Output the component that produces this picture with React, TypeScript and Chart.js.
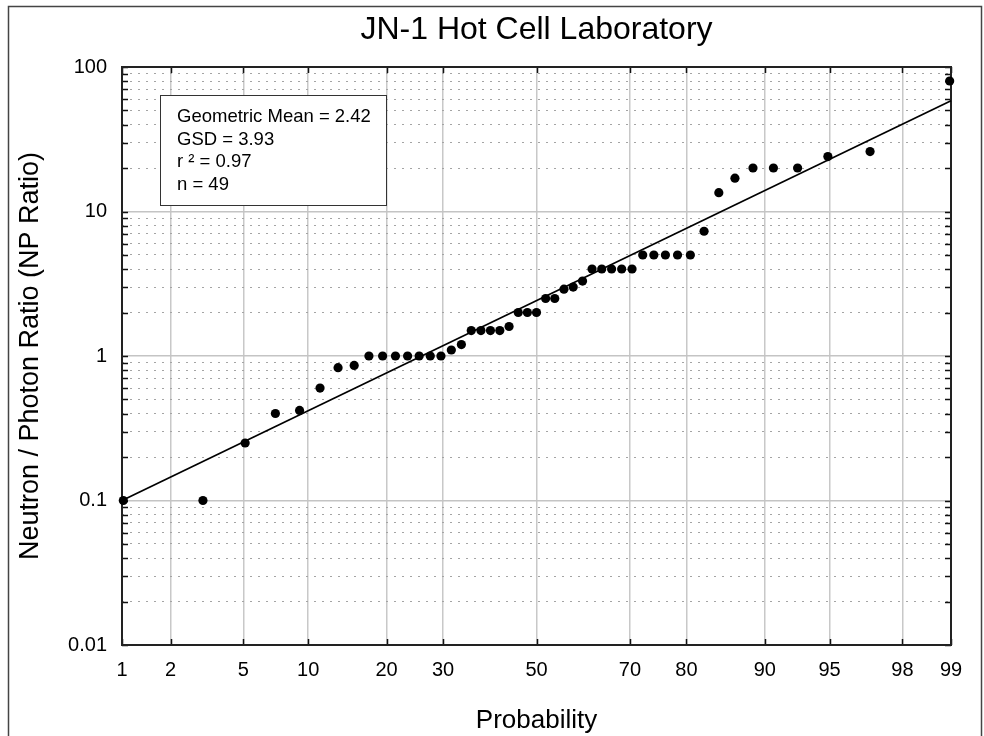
import React, { useEffect, useRef } from 'react';
import { Chart, registerables, LinearScale } from 'chart.js';

// ---------- data ----------
const chartTitle = 'JN-1 Hot Cell Laboratory';
const xAxisTitle = 'Probability';
const yAxisTitle = 'Neutron / Photon Ratio (NP Ratio)';

const probTicks = [1, 2, 5, 10, 20, 30, 50, 70, 80, 90, 95, 98, 99];
const yDecades = [0.01, 0.1, 1, 10, 100];
const yMinorSteps = [2, 3, 4, 5, 6, 7, 8, 9];

// cumulative probability (%) of each sample
const probabilities = [
  1.02, 3.06, 5.10, 7.14, 9.18, 11.22, 13.27, 15.31, 17.35, 19.39,
  21.43, 23.47, 25.51, 27.55, 29.59, 31.63, 33.67, 35.71, 37.76, 39.80,
  41.84, 43.88, 45.92, 47.96, 50.00, 52.04, 54.08, 56.12, 58.16, 60.20,
  62.24, 64.29, 66.33, 68.37, 70.41, 72.45, 74.49, 76.53, 78.57, 80.61,
  82.65, 84.69, 86.73, 88.78, 90.82, 92.86, 94.90, 96.94, 98.98,
];
// neutron / photon ratio of each sample
const npRatios = [
  0.1, 0.1, 0.25, 0.4, 0.42, 0.6, 0.83, 0.86, 1, 1,
  1, 1, 1, 1, 1, 1.1, 1.2, 1.5, 1.5, 1.5,
  1.5, 1.6, 2, 2, 2, 2.5, 2.5, 2.9, 3, 3.3,
  4, 4, 4, 4, 4, 5, 5, 5, 5, 5,
  7.3, 13.5, 17, 20, 20, 20, 24, 26, 80,
];
// fitted lognormal line end points
const fitProbabilities = [1, 99];
const fitRatios = [0.1, 58.4];

const statsLines = ['Geometric Mean = 2.42', 'GSD = 3.93', 'r \u00b2 = 0.97', 'n = 49'];

// ---------- probability (probit) scale ----------
function probit(p: number): number {
  const a = [-3.969683028665376e1, 2.209460984245205e2, -2.759285104469687e2, 1.38357751867269e2, -3.066479806614716e1, 2.506628277459239];
  const b = [-5.447609879822406e1, 1.615858368580409e2, -1.556989798598866e2, 6.680131188771972e1, -1.328068155288572e1];
  const c = [-7.784894002430293e-3, -3.223964580411365e-1, -2.400758277161838, -2.549732539343734, 4.374664141464968, 2.938163982698783];
  const d = [7.784695709041462e-3, 3.224671290700398e-1, 2.445134137142996, 3.754408661907416];
  const pl = 0.02425;
  if (p < pl) {
    const q = Math.sqrt(-2 * Math.log(p));
    return (((((c[0] * q + c[1]) * q + c[2]) * q + c[3]) * q + c[4]) * q + c[5]) / ((((d[0] * q + d[1]) * q + d[2]) * q + d[3]) * q + 1);
  }
  if (p <= 1 - pl) {
    const q = p - 0.5;
    const r = q * q;
    return ((((((a[0] * r + a[1]) * r + a[2]) * r + a[3]) * r + a[4]) * r + a[5]) * q) / (((((b[0] * r + b[1]) * r + b[2]) * r + b[3]) * r + b[4]) * r + 1);
  }
  const q = Math.sqrt(-2 * Math.log(1 - p));
  return -(((((c[0] * q + c[1]) * q + c[2]) * q + c[3]) * q + c[4]) * q + c[5]) / ((((d[0] * q + d[1]) * q + d[2]) * q + d[3]) * q + 1);
}
function normCdf(z: number): number {
  const t = 1 / (1 + 0.3275911 * Math.abs(z) / Math.SQRT2);
  const y = 1 - (((((1.061405429 * t - 1.453152027) * t + 1.421413741) * t - 0.284496736) * t + 0.254829592) * t) * Math.exp(-z * z / 2);
  return z >= 0 ? (1 + y) / 2 : (1 - y) / 2;
}

class ProbitScale extends (LinearScale as any) {
  static id = 'probit';
  determineDataLimits() {
    const o: any = (this as any).options;
    (this as any).min = o.min;
    (this as any).max = o.max;
  }
  buildTicks() {
    return probTicks.map((v) => ({ value: v }));
  }
  getPixelForValue(value: number) {
    const self: any = this;
    const z0 = probit(self.min / 100);
    const z1 = probit(self.max / 100);
    const z = probit(value / 100);
    return self.getPixelForDecimal((z - z0) / (z1 - z0));
  }
  getValueForPixel(pixel: number) {
    const self: any = this;
    const z0 = probit(self.min / 100);
    const z1 = probit(self.max / 100);
    const dec = self.getDecimalForPixel(pixel);
    return normCdf(z0 + dec * (z1 - z0)) * 100;
  }
}

Chart.register(...registerables, ProbitScale as any);

const FONT = "'Liberation Sans', Arial, Helvetica, sans-serif";
const isDecade = (v: number) => yDecades.some((d) => Math.abs(d - v) < 1e-9);
const yTickValues: number[] = [];
yDecades.forEach((dec, i) => {
  yTickValues.push(dec);
  if (i < yDecades.length - 1) yMinorSteps.forEach((m) => yTickValues.push(Number((dec * m).toPrecision(3))));
});

const decorPlugin = {
  id: 'decor',
  beforeDraw(chart: any) {
    const ctx = chart.ctx;
    ctx.save();
    ctx.fillStyle = '#ffffff';
    ctx.fillRect(0, 0, chart.width, chart.height);
    ctx.strokeStyle = '#444';
    ctx.lineWidth = 1.5;
    ctx.strokeRect(8.5, 6.5, chart.width - 11, chart.height + 10);
    ctx.restore();
  },
  beforeDatasetsDraw(chart: any) {
    const ctx = chart.ctx;
    const { left, right, top, bottom } = chart.chartArea;
    const xs = chart.scales.x;
    const ys = chart.scales.y;
    ctx.save();
    ctx.strokeStyle = '#111';
    ctx.lineWidth = 1.5;
    // inward tick marks
    ctx.beginPath();
    ys.ticks.forEach((t: any) => {
      const py = Math.round(ys.getPixelForValue(t.value)) + 0.5;
      ctx.moveTo(left, py); ctx.lineTo(left + 6, py);
      ctx.moveTo(right, py); ctx.lineTo(right - 6, py);
    });
    xs.ticks.forEach((t: any) => {
      const px = Math.round(xs.getPixelForValue(t.value)) + 0.5;
      ctx.moveTo(px, top); ctx.lineTo(px, top + 6);
      ctx.moveTo(px, bottom); ctx.lineTo(px, bottom - 6);
    });
    ctx.stroke();
    // plot frame
    ctx.strokeStyle = '#222';
    ctx.lineWidth = 2;
    ctx.strokeRect(left, top, right - left, bottom - top);
    ctx.restore();
  },
  afterDraw(chart: any) {
    const ctx = chart.ctx;
    const { left, right, top } = chart.chartArea;
    ctx.save();
    // main title
    ctx.fillStyle = '#000';
    ctx.font = `32px ${FONT}`;
    ctx.textAlign = 'center';
    ctx.textBaseline = 'middle';
    ctx.fillText(chartTitle, (left + right) / 2, 30);
    // statistics box
    const bx = left + 38, by = top + 28, bw = 226, bh = 110;
    ctx.fillStyle = '#fff';
    ctx.fillRect(bx, by, bw, bh);
    ctx.strokeStyle = '#333';
    ctx.lineWidth = 1;
    ctx.strokeRect(bx + 0.5, by + 0.5, bw, bh);
    ctx.fillStyle = '#000';
    ctx.font = `18.5px ${FONT}`;
    ctx.textAlign = 'left';
    statsLines.forEach((s, i) => ctx.fillText(s, bx + 17, by + 22 + i * 22.7));
    ctx.restore();
  },
};

export default function App() {
  const ref = useRef<HTMLCanvasElement | null>(null);
  useEffect(() => {
    if (!ref.current) return;
    const points = probabilities.map((p, i) => ({ x: p, y: npRatios[i] }));
    const fit = fitProbabilities.map((p, i) => ({ x: p, y: fitRatios[i] }));
    const chart = new Chart(ref.current, {
      type: 'scatter',
      data: {
        datasets: [
          {
            data: points,
            backgroundColor: '#000',
            borderColor: '#000',
            pointRadius: 4.6,
            pointHoverRadius: 4.6,
            borderWidth: 0,
            order: 0,
            clip: false,
          } as any,
          {
            data: fit,
            showLine: true,
            borderColor: '#000',
            borderWidth: 1.7,
            pointRadius: 0,
            pointHoverRadius: 0,
            order: 1,
            clip: false,
          } as any,
        ],
      },
      options: {
        animation: false,
        responsive: false,
        devicePixelRatio: 1,
        events: [],
        layout: { padding: { left: 0, right: 33, top: 67, bottom: 0 } },
        plugins: { legend: { display: false }, tooltip: { enabled: false }, title: { display: false } },
        scales: {
          x: {
            type: 'probit' as any,
            min: 1,
            max: 99,
            afterFit: (s: any) => { s.height = 91; },
            grid: { color: '#c8c8c8', lineWidth: 1.5, drawTicks: false },
            border: { display: false },
            ticks: {
              autoSkip: false,
              maxRotation: 0,
              padding: 13,
              color: '#000',
              font: { family: FONT, size: 20 },
              callback: (v: any) => String(v),
            },
            title: {
              display: true,
              text: xAxisTitle,
              color: '#000',
              font: { family: FONT, size: 26 },
              padding: { top: 0, bottom: 0 },
            },
          } as any,
          y: {
            type: 'logarithmic',
            min: 0.01,
            max: 100,
            afterBuildTicks: (s: any) => {
              s.ticks = yTickValues.map((v) => ({ value: v, major: isDecade(v) }));
            },
            afterFit: (s: any) => { s.width = 122; },
            grid: {
              drawTicks: false,
              color: (c: any) => (c.tick && isDecade(c.tick.value) ? '#c4c4c4' : '#a4a4a4'),
              lineWidth: (c: any) => (c.tick && isDecade(c.tick.value) ? 1.5 : 1),
            },
            border: {
              display: false,
              dash: (c: any) => (c.type === 'tick' && c.tick && !isDecade(c.tick.value) ? [2, 6] : []),
            },
            ticks: {
              autoSkip: false,
              padding: 15,
              color: '#000',
              font: { family: FONT, size: 20 },
              callback: (v: any) => (isDecade(Number(v)) ? String(v) : ''),
            },
            title: {
              display: true,
              text: yAxisTitle,
              color: '#000',
              font: { family: FONT, size: 27 },
              padding: { top: 14, bottom: 0 },
            },
          } as any,
        },
      },
      plugins: [decorPlugin],
    });
    return () => chart.destroy();
  }, []);
  return (
    <div style={{ position: 'absolute', left: 0, top: 0, width: 984, height: 736 }}>
      <canvas ref={ref} width={984} height={736} style={{ display: 'block' }} />
    </div>
  );
}
